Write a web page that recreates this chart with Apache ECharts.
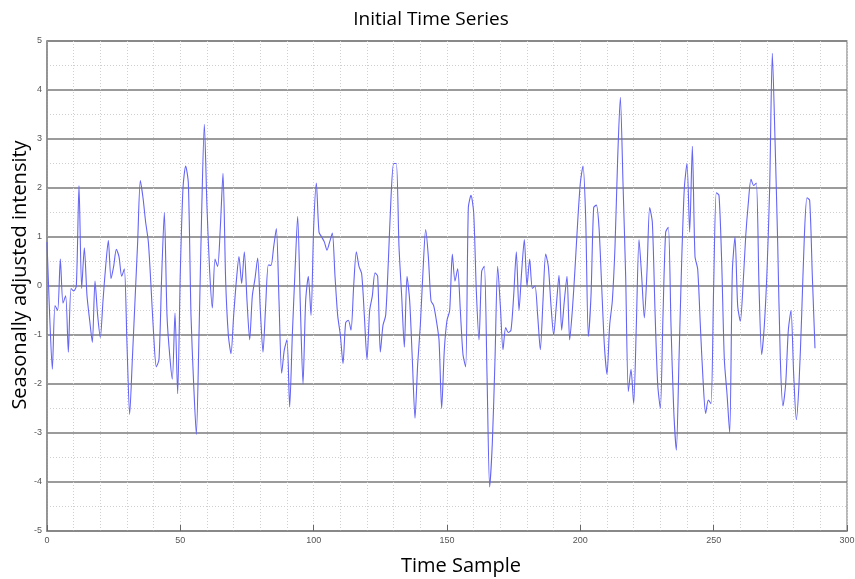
<!DOCTYPE html>
<html>
<head>
<meta charset="utf-8">
<script src="https://cdn.jsdelivr.net/npm/echarts@6/dist/echarts.min.js"></script>
<style>
    html, body { margin: 0; padding: 0; background: #fff; }
    #chart { width: 855px; height: 579px; }
</style>
</head>
<body>
<div id="chart"></div>
<script>
    // seasonally adjusted intensity, one value per time sample (0..288)
    var intensity = [
        0.9, -0.6, -1.7, -0.4, -0.5, 0.55, -0.35, -0.2, -1.35, -0.05,
        -0.1, 0.0, 2.05, -0.05, 0.78, -0.2, -0.7, -1.15, 0.1, -0.6,
        -1.05, -0.3, 0.4, 0.93, 0.15, 0.4, 0.75, 0.6, 0.2, 0.35,
        -1.2, -2.62, -1.5, -0.3, 0.9, 2.15, 1.8, 1.3, 0.9, 0.0,
        -1.0, -1.65, -1.5, 0.2, 1.5, -0.6, -1.4, -1.9, -0.55, -2.2,
        0.3, 2.0, 2.45, 2.1, -0.6, -2.0, -3.03, -1.0, 1.5, 3.3,
        1.6, 0.3, -0.45, 0.55, 0.4, 1.2, 2.3, 0.1, -1.0, -1.38,
        -0.6, 0.1, 0.6, 0.05, 0.7, -0.3, -1.1, -0.2, 0.15, 0.57,
        -0.5, -1.35, -0.4, 0.43, 0.42, 0.8, 1.17, -0.3, -1.78, -1.3,
        -1.1, -2.47, -1.0, 0.3, 1.42, -0.4, -2.0, -0.3, 0.2, -0.6,
        1.2, 2.1, 1.1, 1.0, 0.9, 0.73, 0.9, 1.08, 0.2, -0.6,
        -1.0, -1.58, -0.75, -0.7, -0.9, 0.0, 0.7, 0.4, 0.25, -0.6,
        -1.5, -0.5, -0.2, 0.27, 0.2, -1.35, -0.8, -0.6, 0.5, 1.8,
        2.5, 2.5, 0.8, -0.2, -1.25, 0.2, -0.3, -1.5, -2.7, -1.6,
        -0.8, 0.3, 1.15, 0.6, -0.3, -0.4, -0.7, -1.1, -2.5, -1.3,
        -0.7, -0.5, 0.65, 0.1, 0.35, -0.5, -1.4, -1.65, 1.6, 1.85,
        1.5, -0.1, -1.1, 0.3, 0.4, -1.8, -4.1, -3.2, -1.5, 0.4,
        -0.4, -1.3, -0.85, -0.95, -0.9, -0.2, 0.7, -0.5, 0.3, 0.95,
        0.0, 0.55, -0.05, 0.0, -0.6, -1.3, -0.3, 0.65, 0.4, -0.4,
        -1.0, -0.4, 0.22, -0.9, -0.3, 0.2, -1.1, -0.5, 0.35, 1.3,
        2.1, 2.45, 1.4, -1.03, -0.2, 1.6, 1.65, 1.2, 0.0, -1.2,
        -1.8, -0.8, -0.3, 0.8, 2.6, 3.85, 2.1, 0.2, -2.15, -1.7,
        -2.4, -0.8, 0.95, 0.2, -0.65, 0.3, 1.6, 1.3, -0.5, -2.0,
        -2.5, -0.6, 1.1, 1.2, -0.8, -2.5, -3.35, -1.5, 0.5, 2.0,
        2.5, 1.1, 2.85, 0.6, 0.35, -0.8, -1.9, -2.6, -2.33, -2.4,
        0.0, 1.9, 1.85, 0.5, -1.5, -2.2, -3.0, 0.3, 1.0, -0.4,
        -0.72, 0.0, 1.0, 1.7, 2.18, 2.05, 2.1, 0.0, -1.4, -0.8,
        0.3, 2.0, 4.75, 3.0, 0.9, -1.5, -2.45, -2.0, -0.9, -0.5,
        -1.8, -2.73, -2.0, -0.6, 1.0, 1.8, 1.75, 0.2, -1.27
    ];

    var xTicks = [0, 50, 100, 150, 200, 250, 300];
    var yTicks = [-5, -4, -3, -2, -1, 0, 1, 2, 3, 4, 5];

    var points = [];
    for (var i = 0; i < intensity.length; i++) {
        points.push([i, intensity[i]]);
    }

    var chart = echarts.init(document.getElementById('chart'));
    chart.setOption({
        animation: false,
        backgroundColor: '#fff',
        title: {
            text: 'Initial Time Series',
            left: 426,
            top: 5,
            textAlign: 'center',
            textStyle: { fontFamily: 'Open Sans', fontSize: 19, fontWeight: 'normal', color: '#000' }
        },
        grid: {
            left: 47, right: 8, top: 41, bottom: 48,
            outerBoundsMode: 'none',
            containLabel: false,
            show: true,
            borderColor: '#a0a0a0',
            borderWidth: 1.5
        },
        xAxis: {
            type: 'value',
            min: xTicks[0],
            max: xTicks[xTicks.length - 1],
            interval: 50,
            name: 'Time Sample',
            nameLocation: 'middle',
            nameGap: 25,
            nameTextStyle: { fontFamily: 'Open Sans', fontSize: 20, color: '#000', padding: [0, 0, 0, 28] },
            axisLine: { show: true, onZero: false, lineStyle: { color: '#888', width: 1.5 } },
            axisTick: { show: true, inside: true, length: 6, lineStyle: { color: '#666' } },
            axisLabel: { fontSize: 9, color: '#555', margin: 5 },
            splitLine: { show: true, lineStyle: { color: '#d0d0d0', type: [1, 2] } },
            minorTick: { show: false, splitNumber: 5 },
            minorSplitLine: { show: true, lineStyle: { color: '#d0d0d0', type: [1, 2] } }
        },
        yAxis: {
            type: 'value',
            min: yTicks[0],
            max: yTicks[yTicks.length - 1],
            interval: 1,
            name: 'Seasonally adjusted intensity',
            nameLocation: 'middle',
            nameGap: 17,
            nameMoveOverlap: false,
            nameTextStyle: { fontFamily: 'Open Sans', fontSize: 20, color: '#000', padding: [0, 0, 0, 22] },
            axisLine: { show: true, lineStyle: { color: '#888', width: 1.5 } },
            axisTick: { show: false },
            axisLabel: { fontSize: 9, color: '#555', margin: 5 },
            splitLine: { show: true, lineStyle: { color: '#7a7a7a', width: 1.5 } },
            minorTick: { show: false, splitNumber: 2 },
            minorSplitLine: { show: true, lineStyle: { color: '#cfcfcf', type: [1, 2] } }
        },
        series: [{
            type: 'line',
            data: points,
            showSymbol: false,
            smooth: 0.25,
            lineStyle: { color: '#6464f5', width: 1.1 }
        }]
    });
</script>
</body>
</html>
